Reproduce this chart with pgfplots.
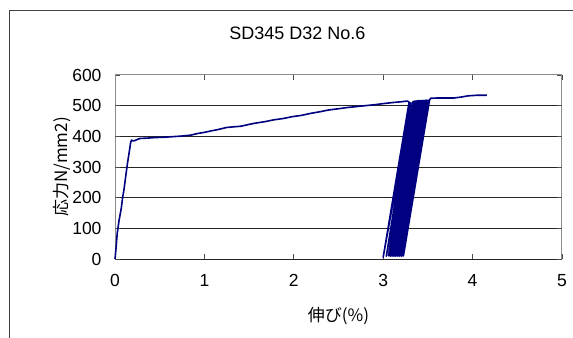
\documentclass[border=0pt]{standalone}
\usepackage{pgfplots}
\pgfplotsset{compat=1.18}
\usepackage{fontspec}
\setmainfont{Liberation Sans}
\newfontfamily\jp{Noto Sans CJK JP}
\definecolor{navyline}{RGB}{0,0,128}
\begin{document}
\begin{tikzpicture}
\path[use as bounding box] (0,0) rectangle (573bp,338bp);
\draw[black!75, line width=1bp] (9.5bp,0) -- (9.5bp,327.5bp) -- (573bp,327.5bp);
\node[font=\fontsize{18bp}{20bp}\selectfont] at (297.5bp,305bp) {SD345 D32 No.6};
\begin{axis}[
  at={(115bp,79bp)}, anchor=south west,
  scale only axis, width=447bp, height=184bp,
  xmin=0, xmax=5, ymin=0, ymax=600,
  xtick={0,1,2,3,4,5}, ytick={0,100,...,600},
  tick align=inside, major tick length=5bp,
  tick style={black!70, line width=0.8bp},
  axis line style={black!45, line width=1bp},
  extra y ticks={0,100,200,300,400,500},
  extra y tick labels={},
  extra y tick style={grid=major, major grid style={black!85, line width=0.8bp}},
  /pgf/number format/assume math mode=true,
  tick label style={font=\fontsize{17.5bp}{19bp}\selectfont},
  xticklabel style={yshift=-12bp},
  yticklabel style={xshift=-10bp},
  xlabel={\jp 伸び(\%)},
  ylabel={\jp 応力N/mm2)},
  label style={font=\fontsize{17bp}{19bp}\selectfont},
  xlabel style={at={(axis description cs:0.5,-0.31)}, anchor=center},
  ylabel style={at={(axis description cs:-0.1186,0.5)}, anchor=center, rotate=0},
  clip=false,
]
\addplot[navyline, line width=1.6bp, line join=round] coordinates {
(0,0) (0.01,30) (0.025,84) (0.045,125) (0.07,165) (0.085,200) (0.10,225)
(0.12,270) (0.14,313) (0.16,350) (0.175,380) (0.185,388) (0.20,385)
(0.22,386) (0.25,390) (0.28,393) (0.35,394) (0.45,396) (0.55,397)
(0.65,399) (0.75,401) (0.85,404) (0.92,409) (1.00,413) (1.08,418)
(1.15,422) (1.25,429) (1.33,431) (1.41,433) (1.50,439) (1.57,443)
(1.68,448) (1.78,454) (1.88,458) (1.98,464) (2.08,468) (2.19,475)
(2.29,480) (2.39,486) (2.50,490) (2.60,494) (2.70,497) (2.80,500)
(2.90,503) (3.01,507) (3.10,510) (3.21,513) (3.27,515) (3.29,512)
(3.000,6) (3.310,510)
(3.035,9) (3.335,514)
(3.060,11) (3.350,515)
(3.068,10) (3.358,514)
(3.076,11) (3.366,516)
(3.084,9) (3.374,515)
(3.092,10) (3.382,516)
(3.100,11) (3.390,515)
(3.108,9) (3.398,517)
(3.116,10) (3.406,516)
(3.124,11) (3.414,515)
(3.132,9) (3.422,517)
(3.140,10) (3.430,516)
(3.148,11) (3.438,517)
(3.156,9) (3.446,516)
(3.164,10) (3.454,517)
(3.172,11) (3.462,516)
(3.180,9) (3.470,518)
(3.188,10) (3.478,517)
(3.196,11) (3.486,518)
(3.204,9) (3.494,517)
(3.212,10) (3.502,518)
(3.220,11) (3.510,517)
(3.226,10) (3.518,518)
(3.53,524) (3.60,525) (3.70,525) (3.79,525) (3.87,528) (3.95,532)
(4.05,534) (4.16,534)
};
\end{axis}
\end{tikzpicture}
\end{document}
